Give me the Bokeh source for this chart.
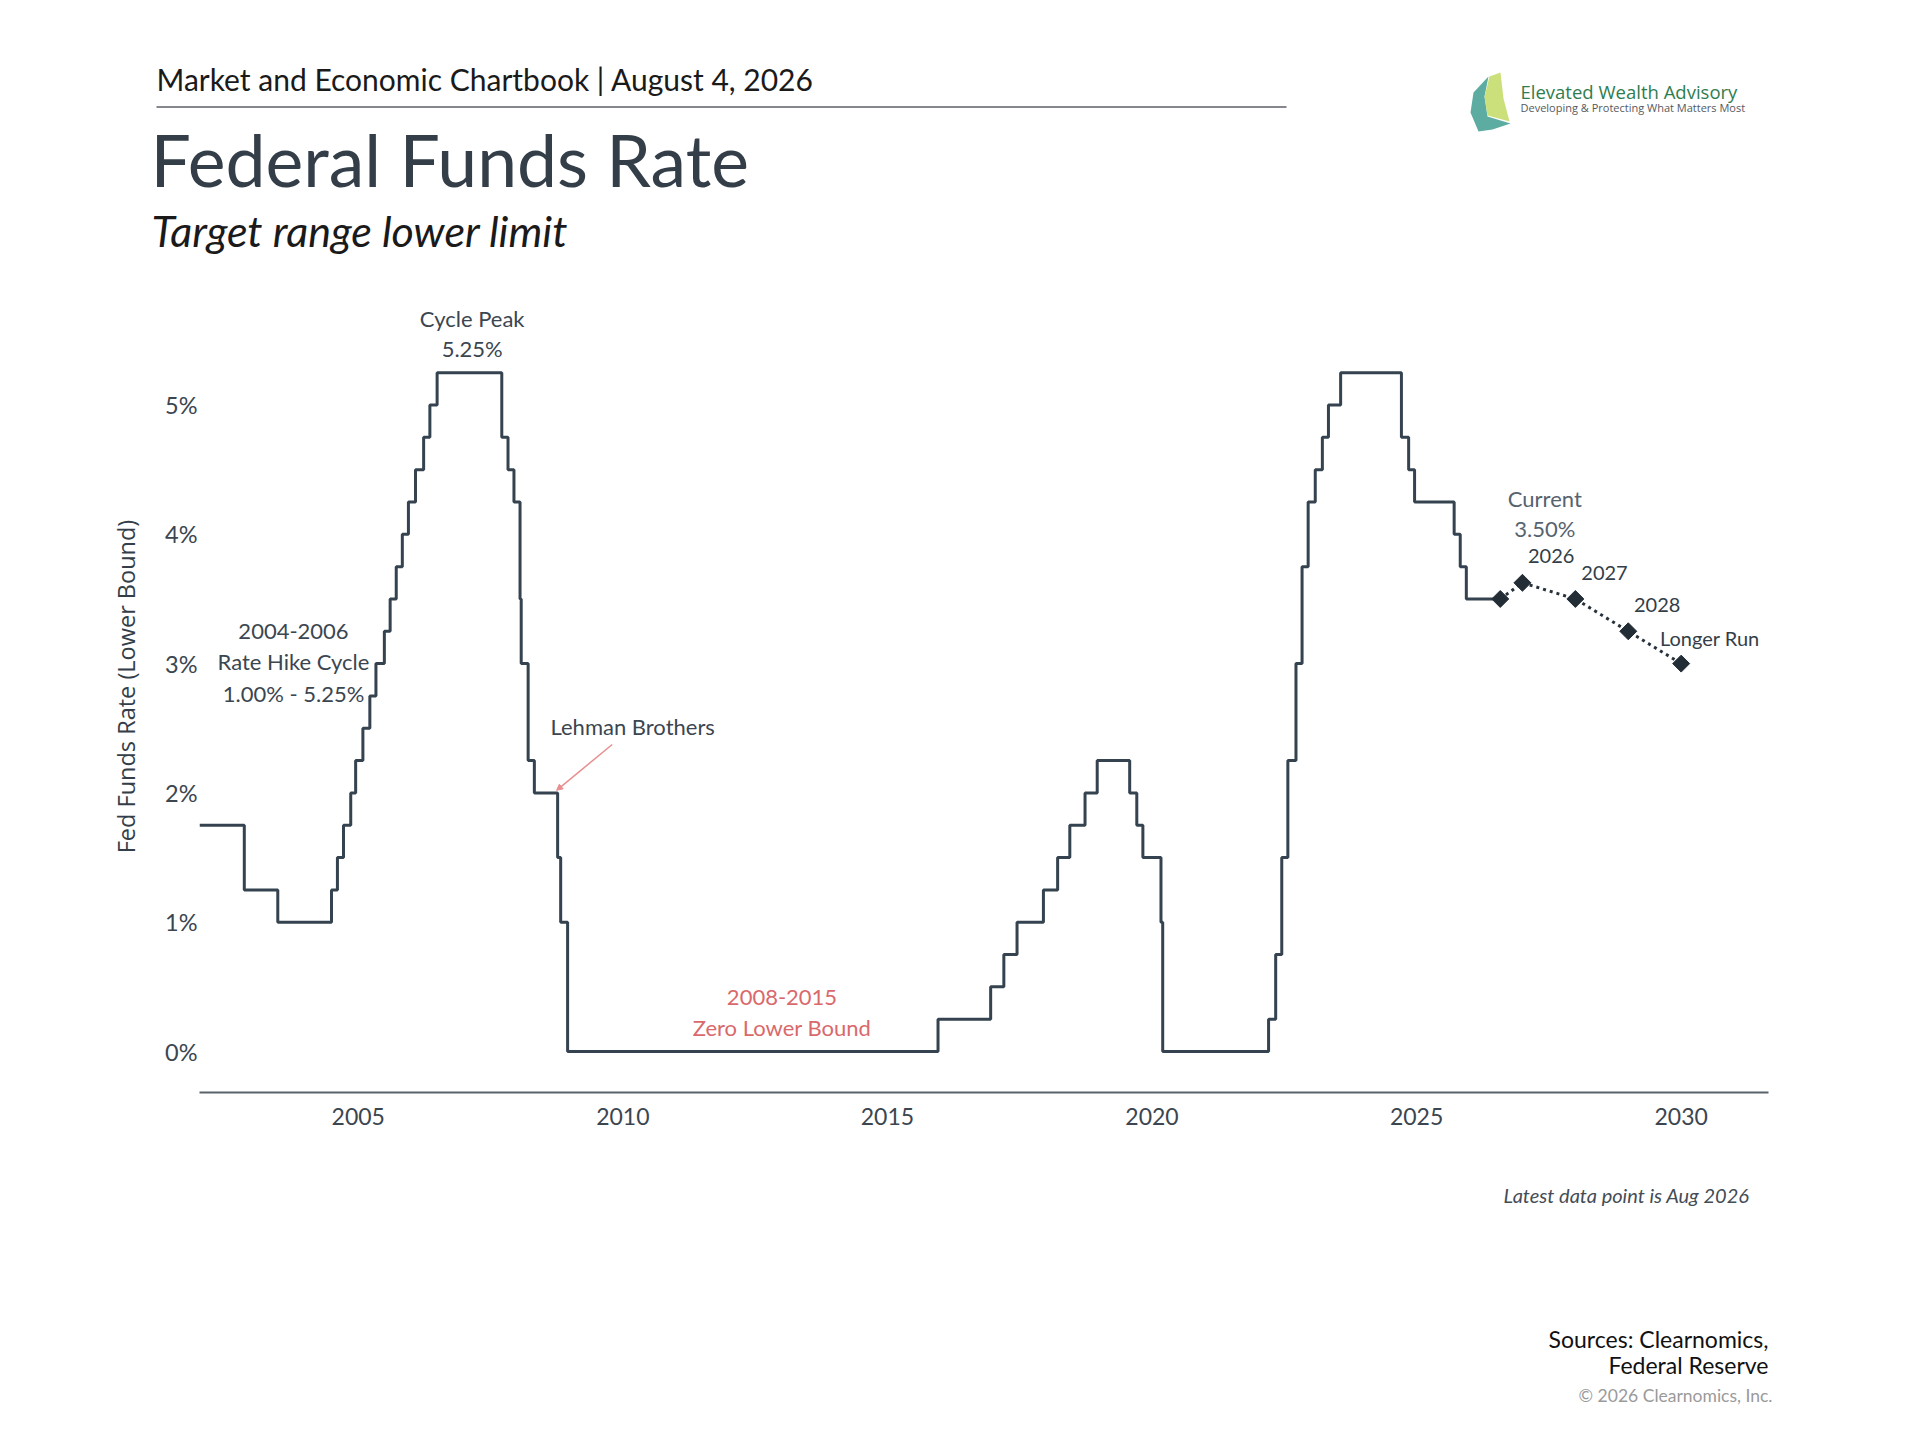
import numpy as np
import pandas as pd
from bokeh.plotting import figure
from bokeh.layouts import column
from bokeh.models import (Label, Arrow, NormalHead, FixedTicker, PrintfTickFormatter, Range1d)
from bokeh.core.properties import value
from bokeh.embed import file_html
from bokeh.resources import INLINE

# ---------------- data ----------------
rate_dates = ["2002-01-01", "2002-11-06", "2003-06-25", "2004-06-30", "2004-08-10", "2004-09-21",
              "2004-11-10", "2004-12-14", "2005-02-02", "2005-03-22", "2005-05-03", "2005-06-30",
              "2005-08-09", "2005-09-20", "2005-11-01", "2005-12-13", "2006-01-31", "2006-03-28",
              "2006-05-10", "2006-06-29", "2007-09-18", "2007-10-31", "2007-12-11", "2008-01-22",
              "2008-01-30", "2008-03-18", "2008-04-30", "2008-10-08", "2008-10-29", "2008-12-16",
              "2015-12-16", "2016-12-14", "2017-03-15", "2017-06-14", "2017-12-13", "2018-03-21",
              "2018-06-13", "2018-09-26", "2018-12-19", "2019-07-31", "2019-09-18", "2019-10-30",
              "2020-03-03", "2020-03-15", "2022-03-16", "2022-05-04", "2022-06-15", "2022-07-27",
              "2022-09-21", "2022-11-02", "2022-12-14", "2023-02-01", "2023-03-22", "2023-05-03",
              "2023-07-26", "2024-09-18", "2024-11-07", "2024-12-18", "2025-09-17", "2025-10-29",
              "2025-12-10", "2026-08-01"]
rate_values = [1.75, 1.25, 1.0, 1.25, 1.5, 1.75, 2.0, 2.25, 2.5, 2.75, 3.0, 3.25, 3.5, 3.75, 4.0, 4.25,
               4.5, 4.75, 5.0, 5.25, 4.75, 4.5, 4.25, 3.5, 3.0, 2.25, 2.0, 1.5, 1.0, 0.0, 0.25, 0.5,
               0.75, 1.0, 1.25, 1.5, 1.75, 2.0, 2.25, 2.0, 1.75, 1.5, 1.0, 0.0, 0.25, 0.75, 1.5, 2.25,
               3.0, 3.75, 4.25, 4.5, 4.75, 5.0, 5.25, 4.75, 4.5, 4.25, 4.0, 3.75, 3.5, 3.5]

proj_labels = ["Current", "2026", "2027", "2028", "Longer Run"]
proj_dates = ["2026-08-01", "2027-01-01", "2028-01-01", "2029-01-01", "2030-01-01"]
proj_values = [3.5, 3.625, 3.5, 3.25, 3.0]

x_ticks = [2005, 2010, 2015, 2020, 2025, 2030]
y_ticks = [0, 1, 2, 3, 4, 5]


def dec_year(s):
    d = pd.Timestamp(s)
    n = 366 if d.is_leap_year else 365
    return d.year + (d.dayofyear - 1) / n


rate_x = [dec_year(d) for d in rate_dates]
proj_x = [dec_year(d) for d in proj_dates]

FONT = "Lato"
W = 1912
H_TOP, H_MID, H_BOT = 272, 898, 262   # page bands: 0-272, 272-1170, 1170-1432
MID_Y0 = H_TOP


def plain_fig(h, y_top):
    f = figure(width=W, height=h, x_range=Range1d(0, W), y_range=Range1d(y_top + h, y_top),
               output_backend="svg", toolbar_location=None, x_axis_type=None, y_axis_type=None,
               min_border=0, min_border_left=0, min_border_right=0, min_border_top=0,
               min_border_bottom=0, frame_align=False)
    f.outline_line_color = None
    f.xgrid.visible = False
    f.ygrid.visible = False
    return f


def ftext(f, text, x, y, size, color, align="left", font=FONT, style="normal"):
    f.text(x=[x], y=[y], text=[text], text_font=value(font), text_font_size=value(f"{size}px"),
           text_color=color, text_align=align, text_baseline="middle", text_font_style=style)


# ---------------- header ----------------
top = plain_fig(H_TOP, 0)
ftext(top, "Market and Economic Chartbook | August 4, 2026", 156, 78, 30, "#1a1a1a")
top.segment(x0=[156], y0=[106.5], x1=[1286], y1=[106.5], line_color="#5b6168", line_width=1.5)
ftext(top, "Federal Funds Rate", 150, 158, 71.5, "#333e48")
ftext(top, "Target range lower limit", 151, 230, 43, "#1a1a1a", style="italic")
# logo
sw1 = [(1478, 131), (1470, 112), (1473, 92), (1488, 76), (1484, 96), (1487, 116), (1510, 123), (1492, 129)]
sw2 = [(1489, 76), (1500, 72), (1503, 98), (1509, 121), (1487, 115), (1484, 96)]
for pts, col in ((sw1, "#3f9d92"), (sw2, "#c2da63")):
    xs, ys = zip(*pts)
    top.patch(x=list(xs), y=list(ys), fill_color=col, fill_alpha=0.85, line_color=None)
ftext(top, "Elevated Wealth Advisory", 1520, 91, 18.5, "#2f7d4f", font="Open Sans")
ftext(top, "Developing & Protecting What Matters Most", 1520, 107, 11, "#555a60", font="Open Sans")

# ---------------- chart ----------------
BL, BR, BT, BB = 199, W - 1768, 8, 1170 - 1092
X0, X1 = 2002.0, 2031.65
Y0, Y1 = -0.317, 5.963
FW = W - BL - BR
FH = H_MID - BT - BB


def to_data(px, py):
    """page pixel -> data coordinates (for placing annotation text)"""
    x = X0 + (px - BL) / FW * (X1 - X0)
    y = Y1 - (py - (MID_Y0 + BT)) / FH * (Y1 - Y0)
    return x, y


p = figure(width=W, height=H_MID, x_range=Range1d(X0, X1), y_range=Range1d(Y0, Y1),
           output_backend="svg", toolbar_location=None, frame_align=False,
           min_border_left=BL, min_border_right=BR, min_border_top=BT, min_border_bottom=BB)
p.outline_line_color = None
p.xgrid.visible = False
p.ygrid.visible = False

xa = p.xaxis[0]
xa.ticker = FixedTicker(ticks=x_ticks)
xa.major_tick_line_color = None
xa.minor_tick_line_color = None
xa.major_tick_out = 0
xa.major_tick_in = 0
xa.axis_line_color = "#59636d"
xa.axis_line_width = 2
xa.major_label_text_font = FONT
xa.major_label_text_font_size = "23px"
xa.major_label_text_color = "#3b4650"
xa.major_label_standoff = 15

ya = p.yaxis[0]
ya.ticker = FixedTicker(ticks=y_ticks)
ya.formatter = PrintfTickFormatter(format="%d%%")
ya.major_tick_line_color = None
ya.minor_tick_line_color = None
ya.major_tick_out = 0
ya.major_tick_in = 0
ya.axis_line_color = None
ya.major_label_text_font = FONT
ya.major_label_text_font_size = "23.5px"
ya.major_label_text_color = "#3b4650"
ya.major_label_standoff = 2
ya.axis_label = "Fed Funds Rate (Lower Bound)"
ya.axis_label_text_font = "Open Sans"
ya.axis_label_text_font_style = "normal"
ya.axis_label_text_font_size = "23.5px"
ya.axis_label_text_color = "#333e48"
ya.axis_label_standoff = 20

p.step(x=rate_x, y=rate_values, mode="after", line_color="#34434f", line_width=3)
p.line(x=proj_x, y=proj_values, line_dash="3 4", line_width=3, line_color="#28323b")
p.scatter(x=proj_x, y=proj_values, marker="square", angle=np.pi / 4, size=12,
          fill_color="#232d36", line_color="#232d36")


def lab(text, px, py, size, color, align="center", style="normal"):
    x, y = to_data(px, py - 2)
    p.add_layout(Label(x=x, y=y, text=text, text_font=FONT, text_font_size=f"{size}px",
                       text_color=color, text_align=align, text_baseline="middle",
                       text_font_style=style))


lab("Cycle Peak", 471.7, 320, 22, "#3b4650")
lab("5.25%", 471.7, 350, 22, "#3b4650")
lab("2004-2006", 293, 633, 22, "#3b4650")
lab("Rate Hike Cycle", 293, 663, 22, "#3b4650")
lab("1.00% - 5.25%", 293, 695, 22, "#3b4650")
lab("Lehman Brothers", 550, 728, 22, "#3b4650", "left")
lab("2008-2015", 781.5, 999, 22, "#d9696b")
lab("Zero Lower Bound", 781.5, 1029, 22, "#d9696b")
lab("Current", 1544.3, 500, 22, "#56636f")
lab("3.50%", 1544.3, 530, 22, "#56636f")
lab(proj_labels[1], 1550.7, 557, 20, "#333e48")
lab(proj_labels[2], 1604, 574, 20, "#333e48")
lab(proj_labels[3], 1656.7, 606, 20, "#333e48")
lab(proj_labels[4], 1709.3, 639, 20, "#333e48")

ax0, ay0 = to_data(611.7, 744)
p.add_layout(Arrow(x_start=ax0, y_start=ay0, x_end=dec_year("2008-10-01"), y_end=2.02,
                   line_color="#e88f8f", line_width=1.5,
                   end=NormalHead(size=6, fill_color="#e88f8f", line_color="#e88f8f")))

# ---------------- footer ----------------
bot = plain_fig(H_BOT, 1170)
ftext(bot, "Latest data point is Aug 2026", 1749, 1194, 20, "#444c55", "right", style="italic")
ftext(bot, "Sources: Clearnomics,", 1768, 1338, 23, "#111111", "right")
ftext(bot, "Federal Reserve", 1768, 1364, 23, "#111111", "right")
ftext(bot, "\u00a9 2026 Clearnomics, Inc.", 1772, 1395, 17.5, "#9a9a9a", "right")

layout = column(top, p, bot, spacing=0)
open("out.html", "w").write(file_html(layout, INLINE))
